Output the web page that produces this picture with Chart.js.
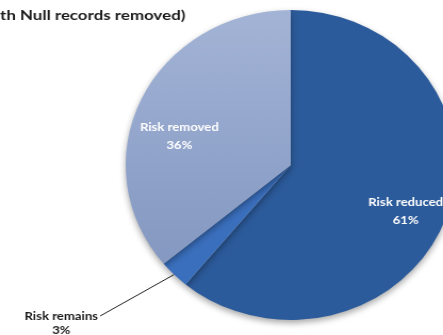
<!DOCTYPE html>
<html>
<head>
<meta charset="utf-8">
<script src="https://cdn.jsdelivr.net/npm/chart.js@4/dist/chart.umd.min.js"></script>
<style>
    html, body { margin: 0; padding: 0; background: #fff; overflow: hidden; }
    /* the original picture is a little stretched sideways */
    #wrap { position: relative; width: 563px; height: 335px; transform: scaleX(1.065); transform-origin: 0 0; }
</style>
</head>
<body>
<div id="wrap"><canvas id="pieChart" width="563" height="335"></canvas></div>
<script>
// Chart data
const titleText = 'Risk status (with Null records removed)';
const titleTail = 'th Null records removed)';
const categories = ['Risk reduced', 'Risk remains', 'Risk removed'];
const values = [61, 3, 36];
const sliceColors = ['#2c5b9b', '#3a6fbd', '#93a6cc'];
const labelColors = ['#ffffff', '#1a1a1a', '#ffffff'];

// Label placement (fraction of radius, pixel nudge)
const labelPlacement = [
    { inside: true, frac: 0.74, dx: 0, dy: 7 },
    { inside: false },
    { inside: true, frac: 0.76, dx: 2, dy: 21 }
];

// Gradient for the light slice, like the original
function sliceColor(context) {
    const i = context.dataIndex;
    const chart = context.chart;
    if (i !== 2 || !chart.chartArea) return sliceColors[i];
    const area = chart.chartArea;
    const g = chart.ctx.createLinearGradient(0, area.top, 0, area.bottom);
    g.addColorStop(0, '#a3b4d6');
    g.addColorStop(0.6, '#8c9fc7');
    g.addColorStop(1, '#7f93bc');
    return g;
}

// Soft shadow under the pie
const shadowPlugin = {
    id: 'shadowPlugin',
    beforeDatasetsDraw(chart) {
        const ctx = chart.ctx;
        ctx.save();
        ctx.shadowColor = 'rgba(0,0,0,0.35)';
        ctx.shadowBlur = 6;
        ctx.shadowOffsetY = 3;
    },
    afterDatasetsDraw(chart) {
        chart.ctx.restore();
    }
};

// text squeezed/stretched sideways by sx
function fillText(ctx, text, x, y, sx) {
    ctx.save();
    ctx.translate(x, y);
    ctx.scale(sx, 1);
    ctx.fillText(text, 0, 0);
    ctx.restore();
}

// Title (cut off at left) and slice labels
const labelPlugin = {
    id: 'labelPlugin',
    afterDraw(chart) {
        const ctx = chart.ctx;
        const meta = chart.getDatasetMeta(0);
        ctx.save();

        ctx.font = 'bold 14px Lato';
        ctx.fillStyle = '#1a1a1a';
        ctx.textAlign = 'right';
        ctx.textBaseline = 'middle';
        const tsx = 174 / ctx.measureText(titleTail).width;
        fillText(ctx, titleText, 174, 15, tsx);

        ctx.font = 'bold 11.5px Lato';
        const lsx = 69 / ctx.measureText('Risk remains').width;

        meta.data.forEach(function(arc, i) {
            const p = arc.getProps(['x', 'y', 'startAngle', 'endAngle', 'outerRadius'], true);
            const mid = (p.startAngle + p.endAngle) / 2;
            const pct = values[i] + '%';
            const place = labelPlacement[i];
            ctx.fillStyle = labelColors[i];
            ctx.textBaseline = 'middle';
            if (place.inside) {
                const r = p.outerRadius * place.frac;
                const lx = p.x + Math.cos(mid) * r + place.dx;
                const ly = p.y + Math.sin(mid) * r + place.dy;
                ctx.textAlign = 'center';
                fillText(ctx, categories[i], lx, ly - 9, lsx);
                fillText(ctx, pct, lx, ly + 9, lsx);
            } else {
                const ex = p.x + Math.cos(mid) * p.outerRadius;
                const ey = p.y + Math.sin(mid) * p.outerRadius;
                const tx = 94, ty = 316;
                ctx.strokeStyle = '#222';
                ctx.lineWidth = 1;
                ctx.beginPath();
                ctx.moveTo(ex, ey);
                ctx.lineTo(tx, ty);
                ctx.stroke();
                ctx.textAlign = 'right';
                fillText(ctx, categories[i], tx - 2, ty, lsx);
                const w = ctx.measureText(categories[i]).width * lsx;
                ctx.textAlign = 'center';
                fillText(ctx, pct, tx - 2 - w / 2, ty + 14, lsx);
            }
        });
        ctx.restore();
    }
};

const ctx = document.getElementById('pieChart').getContext('2d');
const pieChart = new Chart(ctx, {
    type: 'pie',
    data: {
        labels: categories,
        datasets: [{
            data: values,
            backgroundColor: sliceColor,
            borderWidth: 0
        }]
    },
    options: {
        responsive: false,
        animation: false,
        layout: {
            padding: { left: 118, right: 135, top: 10, bottom: 15 }
        },
        plugins: {
            legend: { display: false },
            tooltip: { enabled: false },
            title: { display: false }
        }
    },
    plugins: [shadowPlugin, labelPlugin]
});
</script>
</body>
</html>
